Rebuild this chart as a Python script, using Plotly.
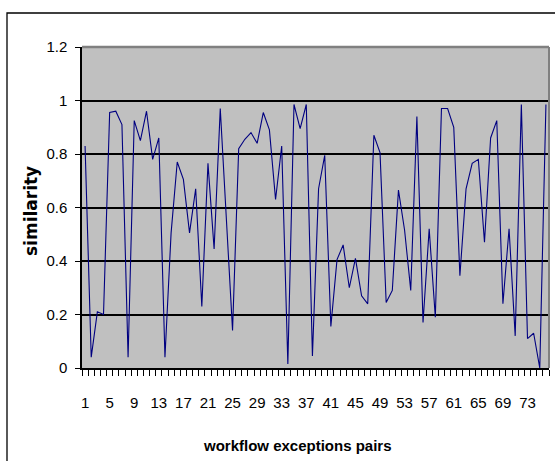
import plotly.graph_objects as go

# ---- data ----
pairs = list(range(1, 77))  # workflow exception pair index 1..76
similarity = [
    0.83, 0.04, 0.21, 0.20, 0.955, 0.96, 0.91, 0.04, 0.925, 0.85,
    0.96, 0.78, 0.86, 0.04, 0.505, 0.77, 0.705, 0.505, 0.67, 0.23,
    0.765, 0.445, 0.97, 0.555, 0.14, 0.82, 0.855, 0.88, 0.84, 0.955,
    0.89, 0.63, 0.83, 0.015, 0.985, 0.895, 0.985, 0.045, 0.67, 0.795,
    0.155, 0.405, 0.46, 0.30, 0.41, 0.27, 0.24, 0.87, 0.805, 0.245,
    0.29, 0.665, 0.515, 0.29, 0.94, 0.17, 0.52, 0.19, 0.97, 0.97,
    0.90, 0.345, 0.67, 0.765, 0.78, 0.47, 0.86, 0.925, 0.24, 0.52,
    0.12, 0.985, 0.11, 0.13, 0.0, 0.985,
]
x_tick_vals = [1, 5, 9, 13, 17, 21, 25, 29, 33, 37, 41, 45, 49, 53, 57, 61, 65, 69, 73]
x_tick_text = ["1", "5", "9", "13", "17", "21", "25", "29", "33", "37", "41",
               "45", "49", "53", "57", "61", "65", "69", "73"]
y_tick_vals = [0, 0.2, 0.4, 0.6, 0.8, 1.0, 1.2]
y_tick_text = ["0", "0.2", "0.4", "0.6", "0.8", "1", "1.2"]

W, H = 555, 461
L, R, T, B = 82, 6, 47, 93
pw, ph = W - L - R, H - T - B
x_range = [pairs[0] - 0.5, pairs[-1] + 0.5]

tick_font = dict(family="Liberation Sans, Arial", size=15, color="black")

fig = go.Figure()
fig.add_trace(go.Scatter(
    x=pairs, y=similarity, mode="lines",
    line=dict(color="#000080", width=1.1),
    showlegend=False, hoverinfo="x+y",
))

fig.update_layout(
    width=W, height=H,
    margin=dict(l=L, r=R, t=T, b=B),
    paper_bgcolor="white",
    plot_bgcolor="#C0C0C0",
    xaxis=dict(
        range=x_range,
        tickmode="array", tickvals=x_tick_vals, ticktext=x_tick_text,
        ticks="outside", ticklen=0, tickcolor="black",
        showgrid=False, zeroline=False,
        showline=True, linecolor="black", linewidth=1.5,
        tickfont=tick_font,
        ticklabelstandoff=20,
        minor=dict(tick0=0.5, dtick=1, ticks="outside", ticklen=6,
                   tickcolor="black", tickwidth=1.3, showgrid=False),
    ),
    yaxis=dict(
        range=[0, 1.2],
        tickmode="array", tickvals=y_tick_vals, ticktext=y_tick_text,
        ticks="outside", ticklen=5, tickcolor="black", tickwidth=1,
        showgrid=True, gridcolor="black", gridwidth=1.5,
        zeroline=False,
        showline=True, linecolor="black", linewidth=1.5,
        tickfont=tick_font,
        ticklabelstandoff=5,
    ),
)

# plot-area border (top and right, gray)
fig.add_shape(type="line", xref="paper", yref="paper", x0=0, x1=1, y0=1, y1=1,
              line=dict(color="#808080", width=2.5), layer="above")
fig.add_shape(type="line", xref="paper", yref="paper", x0=1, x1=1, y0=0, y1=1,
              line=dict(color="#808080", width=2), layer="above")

# chart-area border (left & top visible, rest cropped)
fig.add_shape(type="rect", xref="paper", yref="paper",
              x0=(7 - L) / pw, x1=(W + 10 - L) / pw,
              y0=(ph + T - (H + 10)) / ph, y1=1 + (T - 13) / ph,
              line=dict(color="black", width=1.3), fillcolor="rgba(0,0,0,0)",
              layer="above")

# axis titles
fig.add_annotation(text="<b>workflow exceptions pairs</b>", xref="paper", yref="paper",
                   x=(297 - L) / pw, y=-(445 - (T + ph)) / ph,
                   xanchor="center", yanchor="middle", showarrow=False,
                   font=dict(family="Liberation Sans, Arial", size=15, color="black"))
fig.add_annotation(text="<b>similarity</b>", xref="paper", yref="paper",
                   x=(31 - L) / pw, y=(T + ph - 211) / ph, textangle=-90,
                   xanchor="center", yanchor="middle", showarrow=False,
                   font=dict(family="DejaVu Sans, Liberation Sans", size=17, color="black"))

fig.write_html("out.html", config={"displayModeBar": False},
               post_script="document.body.style.margin='0';")
